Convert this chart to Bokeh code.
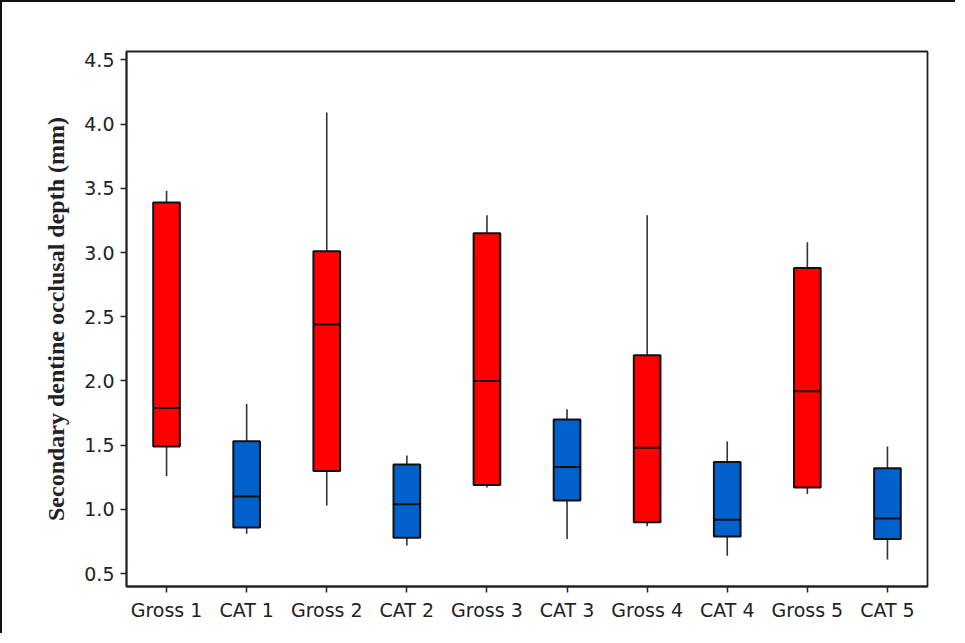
from bokeh.plotting import figure
from bokeh.models import FixedTicker, NumeralTickFormatter, FactorRange, Range1d
from bokeh.embed import file_html
from bokeh.resources import INLINE

categories = ["Gross 1", "CAT 1", "Gross 2", "CAT 2", "Gross 3", "CAT 3",
              "Gross 4", "CAT 4", "Gross 5", "CAT 5"]
lower  = [1.26, 0.81, 1.03, 0.72, 1.17, 0.77, 0.87, 0.64, 1.12, 0.61]
q1     = [1.49, 0.86, 1.30, 0.78, 1.19, 1.07, 0.90, 0.79, 1.17, 0.77]
median = [1.79, 1.10, 2.44, 1.04, 2.00, 1.33, 1.48, 0.92, 1.92, 0.93]
q3     = [3.39, 1.53, 3.01, 1.35, 3.15, 1.70, 2.20, 1.37, 2.88, 1.32]
upper  = [3.48, 1.82, 4.09, 1.42, 3.29, 1.78, 3.29, 1.53, 3.08, 1.49]
colors = ["#FF0000" if c.startswith("Gross") else "#0060CC" for c in categories]
y_ticks = [0.5, 1.0, 1.5, 2.0, 2.5, 3.0, 3.5, 4.0, 4.5]

p = figure(width=955, height=633, x_range=FactorRange(*categories, range_padding=0),
           y_range=Range1d(0.4, 4.565), output_backend="svg", toolbar_location=None,
           min_border_left=124, min_border_right=30, min_border_top=49, min_border_bottom=49)
p.styles = {"border-left": "2px solid #111", "border-top": "2px solid #111"}

p.segment(x0=categories, y0=q3, x1=categories, y1=upper, line_color="#333333", line_width=1.6)
p.segment(x0=categories, y0=q1, x1=categories, y1=lower, line_color="#333333", line_width=1.6)
p.vbar(x=categories, width=0.333, top=q3, bottom=q1, fill_color=colors,
       line_color="#111111", line_width=2)
p.vbar(x=categories, width=0.333, top=median, bottom=median, fill_alpha=0,
       line_color="#111111", line_width=2)

p.xgrid.visible = False
p.ygrid.visible = False
p.outline_line_color = "#222222"
p.outline_line_width = 1.8

for ax in (p.xaxis[0], p.yaxis[0]):
    ax.axis_line_color = "#222222"
    ax.axis_line_width = 1.8
    ax.major_tick_line_color = "#222222"
    ax.major_tick_line_width = 1.5
    ax.major_tick_out = 6
    ax.major_tick_in = 0
    ax.minor_tick_line_color = None
    ax.major_label_text_font = "DejaVu Sans"
    ax.major_label_text_font_size = "19px"
    ax.major_label_text_color = "#222222"
    ax.major_label_standoff = 6

p.yaxis.ticker = FixedTicker(ticks=y_ticks)
p.yaxis.formatter = NumeralTickFormatter(format="0.0")
p.yaxis.axis_label = "Secondary dentine occlusal depth (mm)"
p.yaxis.axis_label_text_font = "Liberation Serif"
p.yaxis.axis_label_text_font_style = "bold"
p.yaxis.axis_label_text_font_size = "24px"
p.yaxis.axis_label_text_color = "#222222"
p.yaxis.axis_label_standoff = 12

open("out.html", "w").write(file_html(p, INLINE))
